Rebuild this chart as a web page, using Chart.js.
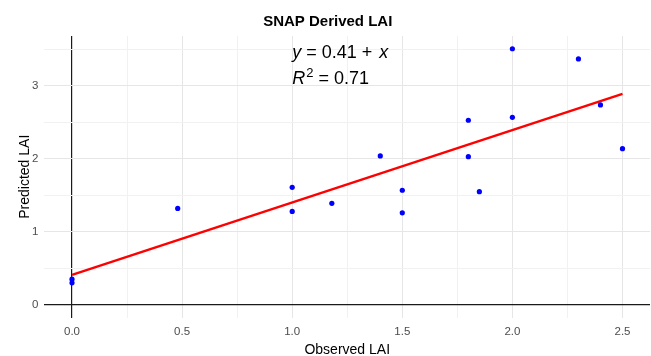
<!DOCTYPE html>
<html>
<head>
<meta charset="utf-8">
<script src="https://cdn.jsdelivr.net/npm/chart.js@4.4.1/dist/chart.umd.min.js"></script>
<style>
  html, body { margin: 0; padding: 0; background: #fff; }
  #wrap { width: 651px; height: 356px; position: relative; }
</style>
</head>
<body>
<div id="wrap"><canvas id="chart"></canvas></div>
<script>
// datos
const observed  = [0, 0, 0.48, 1.0, 1.0, 1.18, 1.4, 1.5, 1.5, 1.8, 1.8, 1.85, 2.0, 2.0, 2.3, 2.4, 2.5];
const predicted = [0.30, 0.35, 1.32, 1.61, 1.28, 1.39, 2.04, 1.57, 1.26, 2.53, 2.03, 1.55, 2.57, 3.51, 3.37, 2.74, 2.14];

// recta de ajuste (extremos)
const fitX = [0, 2.5];
const fitY = [0.41, 2.89];

const xTickVals   = [0, 0.5, 1.0, 1.5, 2.0, 2.5];
const xTickLabels = ['0.0', '0.5', '1.0', '1.5', '2.0', '2.5'];
const xMinorVals  = [0.25, 0.75, 1.25, 1.75, 2.25];
const yTickVals   = [0, 1, 2, 3];
const yTickLabels = ['0', '1', '2', '3'];
const yMinorVals  = [0.5, 1.5, 2.5, 3.5];

const FONT = "'Liberation Sans', Arial, sans-serif";

function gridColor(ctx) {
  const v = ctx.tick && ctx.tick.value;
  if (v === 0) return '#1a1a1a';
  return ctx.tick && ctx.tick.major ? '#e6e6e6' : '#f1f1f1';
}
function gridWidth(ctx) {
  const v = ctx.tick && ctx.tick.value;
  if (v === 0) return 1.2;
  return 1;
}
function setTicks(majors, minors) {
  return (scale) => {
    const all = majors.map(v => ({ value: v, major: true }))
      .concat(minors.map(v => ({ value: v, major: false })));
    all.sort((a, b) => a.value - b.value);
    scale.ticks = all;
  };
}

// texto de la ecuacion
const eqPlugin = {
  id: 'eq',
  afterDatasetsDraw(chart) {
    const { ctx, scales } = chart;
    const x0 = scales.x.getPixelForValue(1.0);
    const y1 = scales.y.getPixelForValue(3.38);
    const y2 = scales.y.getPixelForValue(3.02);
    ctx.save();
    ctx.fillStyle = '#000';
    ctx.textBaseline = 'alphabetic';
    ctx.textAlign = 'left';
    const norm = '18px ' + FONT, ital = 'italic 18px ' + FONT, small = '13px ' + FONT;
    let x = x0;
    // y = 0.41 + x
    ctx.font = ital; ctx.fillText('y', x, y1); x += ctx.measureText('y').width;
    ctx.font = norm; ctx.fillText(' = 0.41 + ', x, y1); x += ctx.measureText(' = 0.41 + ').width + 2;
    ctx.font = ital; ctx.fillText('x', x, y1);
    // R^2 = 0.71
    x = x0;
    ctx.font = ital; ctx.fillText('R', x, y2); x += ctx.measureText('R').width + 1;
    ctx.font = small; ctx.fillText('2', x, y2 - 7); x += ctx.measureText('2').width;
    ctx.font = norm; ctx.fillText(' = 0.71', x, y2);
    ctx.restore();
  }
};

new Chart(document.getElementById('chart'), {
  type: 'scatter',
  data: {
    datasets: [
      {
        type: 'line',
        label: 'ajuste',
        data: fitX.map((v, i) => ({ x: v, y: fitY[i] })),
        borderColor: '#ff0000',
        borderWidth: 2.4,
        pointRadius: 0,
        fill: false,
        order: 2
      },
      {
        label: 'LAI',
        data: observed.map((v, i) => ({ x: v, y: predicted[i] })),
        backgroundColor: '#0000ff',
        borderWidth: 0,
        pointRadius: 2.6,
        order: 1
      }
    ]
  },
  options: {
    responsive: true,
    maintainAspectRatio: false,
    animation: false,
    layout: { autoPadding: false, padding: { left: 5.5, right: 1, top: 0, bottom: 0 } },
    plugins: {
      legend: { display: false },
      tooltip: { enabled: false },
      title: {
        display: true,
        text: 'SNAP Derived LAI',
        color: '#000',
        font: { family: FONT, size: 15, weight: 'bold', lineHeight: 1.2 },
        padding: { top: 12.5, bottom: 5.5 }
      }
    },
    scales: {
      x: {
        type: 'linear',
        min: -0.125,
        max: 2.625,
        afterBuildTicks: setTicks(xTickVals, xMinorVals),
        afterFit: (scale) => { scale.paddingLeft = 0; scale.paddingRight = 0; },
        ticks: {
          autoSkip: false,
          padding: 7.5,
          color: '#4d4d4d',
          font: { family: FONT, size: 11.5 },
          callback: (value) => {
            const i = xTickVals.indexOf(value);
            return i >= 0 ? xTickLabels[i] : '';
          }
        },
        grid: { color: gridColor, lineWidth: gridWidth, drawTicks: false },
        border: { display: false },
        title: {
          display: true,
          text: 'Observed LAI',
          color: '#000',
          font: { family: FONT, size: 14, lineHeight: 1 },
          padding: { top: -3.3, bottom: -1 }
        }
      },
      y: {
        type: 'linear',
        min: -0.175,
        max: 3.685,
        afterBuildTicks: setTicks(yTickVals, yMinorVals),
        ticks: {
          autoSkip: false,
          padding: 6,
          color: '#4d4d4d',
          font: { family: FONT, size: 11.5 },
          callback: (value) => {
            const i = yTickVals.indexOf(value);
            return i >= 0 ? yTickLabels[i] : '';
          }
        },
        grid: { color: gridColor, lineWidth: gridWidth, drawTicks: false },
        border: { display: false },
        title: {
          display: true,
          text: 'Predicted LAI',
          color: '#000',
          font: { family: FONT, size: 14, lineHeight: 1.2 },
          padding: { top: 11.6, bottom: -7.8 }
        }
      }
    }
  },
  plugins: [eqPlugin]
});
</script>
</body>
</html>
